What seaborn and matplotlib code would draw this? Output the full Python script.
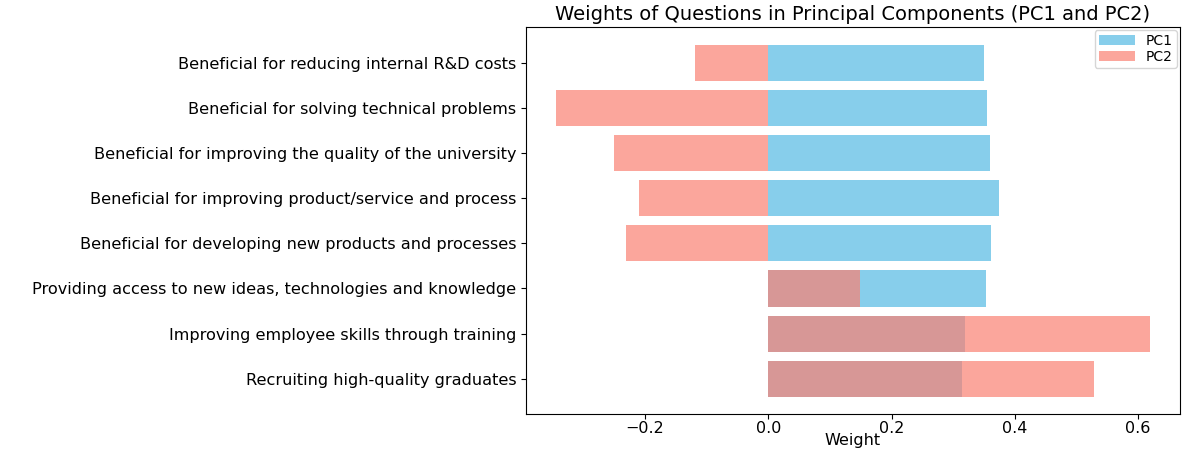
import matplotlib
matplotlib.use("Agg")
import matplotlib.pyplot as plt
import seaborn as sns
import pandas as pd

questions = [
    "Beneficial for reducing internal R&D costs",
    "Beneficial for solving technical problems",
    "Beneficial for improving the quality of the university",
    "Beneficial for improving product/service and process",
    "Beneficial for developing new products and processes",
    "Providing access to new ideas, technologies and knowledge",
    "Improving employee skills through training",
    "Recruiting high-quality graduates",
]
pc1 = [0.350, 0.355, 0.360, 0.375, 0.361, 0.353, 0.320, 0.315]
pc2 = [-0.119, -0.345, -0.251, -0.210, -0.230, 0.149, 0.620, 0.528]

df = pd.DataFrame({"Question": questions, "PC1": pc1, "PC2": pc2})

fig = plt.figure(figsize=(11.83, 4.5), dpi=100)
ax = fig.add_axes([526 / 1183, 1 - 414 / 450, (1180 - 526) / 1183, (414 - 27) / 450])

sns.barplot(data=df, x="PC1", y="Question", orient="h", color="skyblue",
            label="PC1", saturation=1, ax=ax)
sns.barplot(data=df, x="PC2", y="Question", orient="h", color="salmon",
            alpha=0.7, label="PC2", saturation=1, ax=ax)

ax.set_ylim(7.78, -0.79)
ax.set_xlim(-0.393, 0.668)
ax.set_xticks([-0.2, 0.0, 0.2, 0.4, 0.6])
ax.set_ylabel("")
ax.set_xlabel("Weight", fontsize=11.5)
ax.xaxis.set_label_coords(0.5, -0.048)
ax.set_title("Weights of Questions in Principal Components (PC1 and PC2)",
             fontsize=14, pad=5)
ax.tick_params(axis="y", labelsize=11.6)
ax.tick_params(axis="x", labelsize=11.5, pad=1.5)
ax.legend(loc="upper right", fontsize=10, labelspacing=0.15,
          handlelength=2.6, borderaxespad=0.2, borderpad=0.3)

fig.savefig("out.png", dpi=100)
